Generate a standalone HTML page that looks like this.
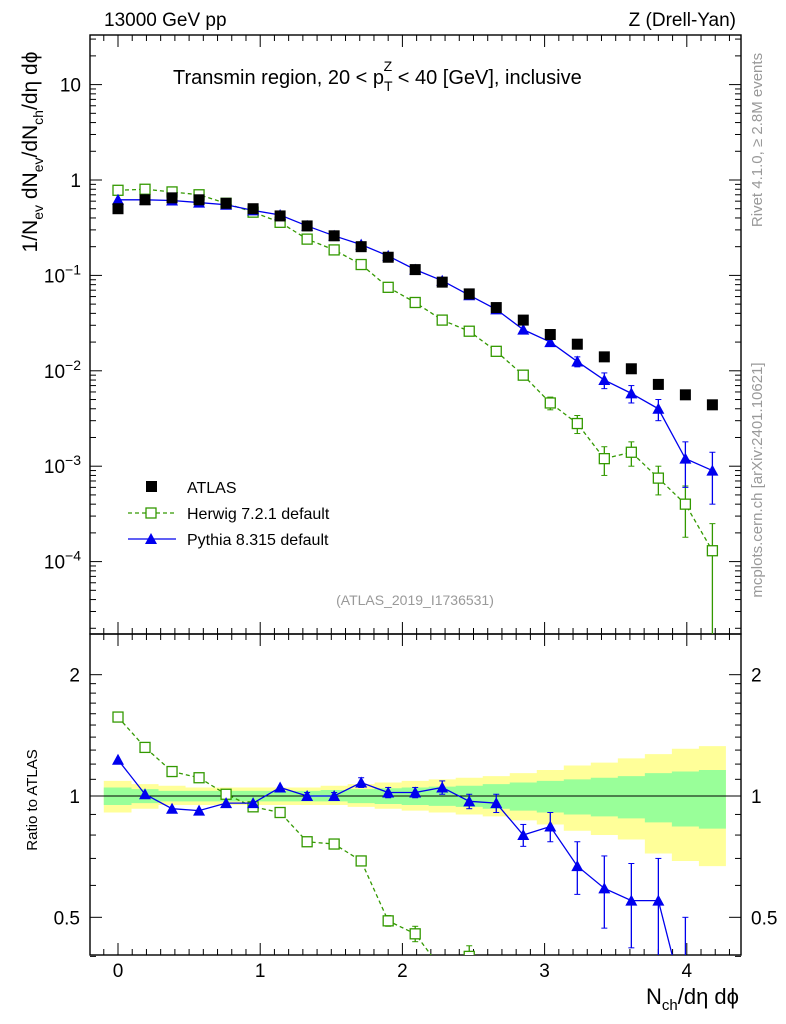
<!DOCTYPE html>
<html><head><meta charset="utf-8"><style>
html,body{margin:0;background:#fff;font-family:"Liberation Sans",sans-serif;overflow:hidden;width:786px;height:1024px}
svg{display:block}
text{font-family:"Liberation Sans",sans-serif}
</style></head><body>
<svg id="chart" width="786" height="1024" xmlns="http://www.w3.org/2000/svg"></svg>
<script>
var xs=[0,0.19,0.38,0.57,0.76,0.95,1.14,1.33,1.52,1.71,1.90,2.09,2.28,2.47,2.66,2.85,3.04,3.23,3.42,3.61,3.80,3.99,4.18];
var atlas=[0.50,0.62,0.65,0.62,0.57,0.50,0.42,0.33,0.26,0.20,0.155,0.115,0.085,0.064,0.046,0.034,0.024,0.019,0.014,0.0105,0.0072,0.0056,0.0044];
var herwig=[0.78,0.80,0.75,0.70,0.57,0.46,0.36,0.24,0.185,0.13,0.075,0.052,0.034,0.026,0.016,0.009,0.0046,0.0028,0.0012,0.0014,0.00075,0.0004,0.00013];
var herwigErr=[0,0,0,0,0,0,0,0,0,0,0,0,0,0,0,0,0.0007,0.0006,0.0004,0.0004,0.00025,0.00022,0.00012];
var pythia=[0.62,0.62,0.61,0.58,0.55,0.48,0.43,0.33,0.26,0.21,0.16,0.115,0.088,0.062,0.044,0.027,0.020,0.0125,0.008,0.0058,0.004,0.0012,0.0009];
var pythiaErr=[0,0,0,0,0,0,0,0,0,0,0,0,0,0,0,0,0,0.0015,0.0015,0.0012,0.001,0.0006,0.0005];
var herwigRatio=[1.57,1.32,1.15,1.11,1.01,0.94,0.91,0.77,0.76,0.69,0.49,0.455,0.37,0.40];
var herwigRatioErr=[0,0,0,0,0,0,0,0,0,0,0.015,0.02,0.02,0.025];
var pythiaRatio=[1.23,1.01,0.93,0.92,0.96,0.96,1.05,1.0,1.0,1.08,1.02,1.02,1.05,0.97,0.96,0.80,0.84,0.67,0.59,0.55,0.55,0.3];
var pythiaRatioErr=[0,0,0,0,0,0,0,0.02,0.02,0.03,0.03,0.03,0.04,0.04,0.05,0.05,0.07,0.1,0.12,0.13,0.15,0.2];
var yellowUp=[1.09,1.07,1.06,1.05,1.05,1.05,1.05,1.05,1.06,1.07,1.08,1.09,1.10,1.11,1.12,1.14,1.16,1.19,1.21,1.24,1.27,1.31,1.33];
var yellowDn=[0.91,0.93,0.95,0.95,0.95,0.95,0.95,0.95,0.95,0.94,0.93,0.92,0.91,0.90,0.89,0.87,0.85,0.82,0.80,0.78,0.72,0.69,0.67];
var greenUp=[1.05,1.04,1.03,1.03,1.03,1.03,1.03,1.03,1.035,1.04,1.045,1.05,1.055,1.06,1.07,1.08,1.09,1.10,1.11,1.12,1.14,1.15,1.16];
var greenDn=[0.95,0.96,0.97,0.97,0.97,0.97,0.97,0.97,0.97,0.96,0.955,0.95,0.945,0.94,0.93,0.92,0.91,0.90,0.89,0.88,0.86,0.84,0.83];
var xTicks=[0,1,2,3,4];
var yMainVals=[10,1,0.1,0.01,0.001,0.0001];
var yMainBase=["10","1","10","10","10","10"];
var yMainExp=["","","\u22121","\u22122","\u22123","\u22124"];
var yRatioTicks=[0.5,1,2];

var NS="http://www.w3.org/2000/svg";
var svg=document.getElementById('chart');
var PL=90,PR=741,T1=35,B1=634,T2=634,B2=955;
function X(v){return 118+v*142.2;}
function Y(v){return 180-Math.log10(v)*95.4;}
function YR(v){return 796-Math.log10(v)*403;}
function el(t,a,p){var e=document.createElementNS(NS,t);for(var k in a)e.setAttribute(k,a[k]);(p||svg).appendChild(e);return e;}
function span(parent,s,a){var e=el('tspan',a||{},parent);e.textContent=s;return e;}
function mark(e,name){return e;}
function lab(s,a,name){var e=el('text',a);e.textContent=s;return mark(e,name);}

var defs=el('defs',{});
var c1=el('clipPath',{id:'k1'},defs);el('rect',{x:PL,y:T1,width:PR-PL,height:B1-T1},c1);
var c2=el('clipPath',{id:'k2'},defs);el('rect',{x:PL,y:T2,width:PR-PL,height:B2-T2},c2);

var gb=mark(el('g',{'clip-path':'url(#k2)'}),'uncertainty-bands');
function band(up,dn,col,name){
  var a=[],b=[];
  for(var i=0;i<xs.length;i++){
    var l=X(xs[i]-0.095-(i==0?0.005:0)),r=X(xs[i]+0.095);
    a.push(l+','+YR(up[i]));a.push(r+','+YR(up[i]));
    b.unshift(l+','+YR(dn[i]));b.unshift(r+','+YR(dn[i]));
  }
  mark(el('polygon',{points:a.concat(b).join(' '),fill:col},gb),name);
}
band(yellowUp,yellowDn,'#ffff99','yellow-band');
band(greenUp,greenDn,'#99ff99','green-band');
el('line',{x1:PL,x2:PR,y1:YR(1),y2:YR(1),stroke:'#000','stroke-width':1});

var panels=[[T1,B1],[T2,B2]];
for(var pi=0;pi<2;pi++){
  var tp=panels[pi][0],bt=panels[pi][1];
  mark(el('rect',{x:PL,y:tp,width:PR-PL,height:bt-tp,fill:'none',stroke:'#000','stroke-width':1.4}),'plot-frame');
  for(var k=-1;k<=43;k++){
    var v=k/10;var big=(k%10===0);var len=big?12:6;var x=X(v);
    el('line',{x1:x,x2:x,y1:bt,y2:bt-len,stroke:'#000'});
    el('line',{x1:x,x2:x,y1:tp,y2:tp+len,stroke:'#000'});
  }
}
for(var i=0;i<xTicks.length;i++){lab(String(xTicks[i]),{x:X(xTicks[i]),y:977,'font-size':19,'text-anchor':'middle'},'x-tick-label');}

for(var d=-5;d<=1;d++){for(var m=1;m<10;m++){
  var yv=Y(m*Math.pow(10,d));if(yv<T1||yv>B1)continue;var ln=m==1?12:6;
  el('line',{x1:PL,x2:PL+ln,y1:yv,y2:yv,stroke:'#000'});
  el('line',{x1:PR,x2:PR-ln,y1:yv,y2:yv,stroke:'#000'});
}}
for(var i=0;i<yMainVals.length;i++){
  var yy=Y(yMainVals[i]);
  var tx=mark(el('text',{x:81,y:yy+7,'font-size':19,'text-anchor':'end'}),'y-tick-label');
  span(tx,yMainBase[i]);
  if(yMainExp[i]){span(tx,yMainExp[i],{dy:-8,'font-size':14});}
}
var rt=[0.4,0.5,0.6,0.7,0.8,0.9,1,1.1,1.2,1.3,1.4,1.5,1.6,1.7,1.8,1.9,2];
for(var i=0;i<rt.length;i++){
  var yv=YR(rt[i]);var ln=(rt[i]==0.5||rt[i]==1||rt[i]==2)?12:6;
  el('line',{x1:PL,x2:PL+ln,y1:yv,y2:yv,stroke:'#000'});
  el('line',{x1:PR,x2:PR-ln,y1:yv,y2:yv,stroke:'#000'});
}
for(var i=0;i<yRatioTicks.length;i++){
  var yv=YR(yRatioTicks[i])+7;var s=String(yRatioTicks[i]);
  lab(s,{x:80,y:yv,'font-size':19,'text-anchor':'end'},'ratio-tick-label');
  lab(s,{x:751,y:yv,'font-size':19},'ratio-tick-label-right');
}

function line(vals,fn,col,dash,g,name){
  var pts=[];for(var i=0;i<vals.length;i++)pts.push(X(xs[i])+','+fn(vals[i]));
  var a={points:pts.join(' '),fill:'none',stroke:col,'stroke-width':1.3};if(dash)a['stroke-dasharray']=dash;
  mark(el('polyline',a,g),name);
}
function errs(vals,er,fn,col,g){
  for(var i=0;i<vals.length;i++){if(!er[i])continue;var x=X(xs[i]);var hi=fn(vals[i]+er[i]);var lo=fn(Math.max(vals[i]-er[i],1e-7));
    el('line',{x1:x,x2:x,y1:hi,y2:lo,stroke:col,'stroke-width':1.3},g);
    el('line',{x1:x-3,x2:x+3,y1:hi,y2:hi,stroke:col},g);
    if(lo<1000)el('line',{x1:x-3,x2:x+3,y1:lo,y2:lo,stroke:col},g);}
}
function sq(vals,fn,g,name){for(var i=0;i<vals.length;i++){mark(el('rect',{x:X(xs[i])-5,y:fn(vals[i])-5,width:10,height:10,fill:'#fff',stroke:'#339900','stroke-width':1.3},g),name);}}
function tri(vals,fn,g,name){for(var i=0;i<vals.length;i++){var x=X(xs[i]),y=fn(vals[i]);mark(el('polygon',{points:x+','+(y-6)+' '+(x-6)+','+(y+5)+' '+(x+6)+','+(y+5),fill:'#0000ee'},g),name);}}

var g1=el('g',{'clip-path':'url(#k1)'});
errs(herwig,herwigErr,Y,'#339900',g1);line(herwig,Y,'#339900','4,3',g1,'herwig-line');sq(herwig,Y,g1,'herwig-point');
errs(pythia,pythiaErr,Y,'#0000ee',g1);line(pythia,Y,'#0000ee','',g1,'pythia-line');tri(pythia,Y,g1,'pythia-point');
for(var i=0;i<atlas.length;i++){mark(el('rect',{x:X(xs[i])-5.5,y:Y(atlas[i])-5.5,width:11,height:11,fill:'#000'},g1),'atlas-point');}

var g2=el('g',{'clip-path':'url(#k2)'});
errs(herwigRatio,herwigRatioErr,YR,'#339900',g2);line(herwigRatio,YR,'#339900','4,3',g2,'herwig-ratio-line');sq(herwigRatio,YR,g2,'herwig-ratio-point');
errs(pythiaRatio,pythiaRatioErr,YR,'#0000ee',g2);line(pythiaRatio,YR,'#0000ee','',g2,'pythia-ratio-line');tri(pythiaRatio,YR,g2,'pythia-ratio-point');

lab('13000 GeV pp',{x:104,y:26,'font-size':19},'header-left');
lab('Z (Drell-Yan)',{x:736,y:26,'font-size':19,'text-anchor':'end'},'header-right');
var tt=mark(el('text',{x:173,y:84,'font-size':20}),'plot-title');
span(tt,'Transmin region, 20 < p');
span(tt,'T',{dy:7,'font-size':14});
span(tt,'Z',{dy:-20,dx:-9,'font-size':14});
span(tt,' < 40 [GeV], inclusive',{dy:13});
lab('(ATLAS_2019_I1736531)',{x:415,y:605,'font-size':14,fill:'#999','text-anchor':'middle'},'analysis-id');
var yl=mark(el('text',{transform:'translate(37,152) rotate(-90)','font-size':21,'text-anchor':'middle'}),'y-axis-title');
span(yl,'1/N');span(yl,'ev',{dy:6,'font-size':14});span(yl,' dN',{dy:-6});span(yl,'ev',{dy:6,'font-size':14});
span(yl,'/dN',{dy:-6});span(yl,'ch',{dy:6,'font-size':14});span(yl,'/d\u03B7 d\u03D5',{dy:-6});
lab('Ratio to ATLAS',{transform:'translate(37,800) rotate(-90)','font-size':15,'text-anchor':'middle'},'ratio-axis-title');
var xl=mark(el('text',{x:739,y:1004,'font-size':22,'text-anchor':'end'}),'x-axis-title');
span(xl,'N');span(xl,'ch',{dy:6,'font-size':15});span(xl,'/d\u03B7 d\u03D5',{dy:-6});
lab('Rivet 4.1.0, \u2265 2.8M events',{transform:'translate(762,140) rotate(-90)','font-size':15,fill:'#999','text-anchor':'middle'},'rivet-label');
lab('mcplots.cern.ch [arXiv:2401.10621]',{transform:'translate(762,480) rotate(-90)','font-size':15,fill:'#999','text-anchor':'middle'},'mcplots-label');

mark(el('rect',{x:146,y:481,width:11,height:11,fill:'#000'}),'legend-atlas-marker');
lab('ATLAS',{x:187,y:493,'font-size':16},'legend-atlas');
el('line',{x1:128,x2:176,y1:513,y2:513,stroke:'#339900','stroke-dasharray':'4,3','stroke-width':1.3});
mark(el('rect',{x:146,y:508,width:10,height:10,fill:'#fff',stroke:'#339900','stroke-width':1.3}),'legend-herwig-marker');
lab('Herwig 7.2.1 default',{x:187,y:519,'font-size':16},'legend-herwig');
el('line',{x1:128,x2:176,y1:539,y2:539,stroke:'#0000ee','stroke-width':1.3});
mark(el('polygon',{points:'151,533 145,544 157,544',fill:'#0000ee'}),'legend-pythia-marker');
lab('Pythia 8.315 default',{x:187,y:545,'font-size':16},'legend-pythia');
</script>
</body></html>
